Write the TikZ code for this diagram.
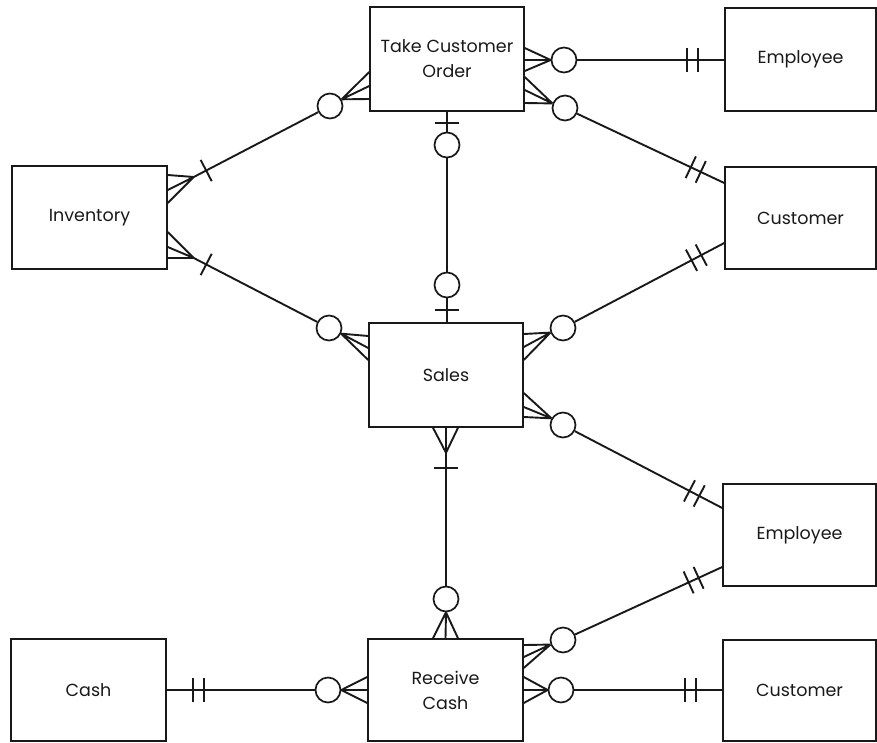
\documentclass[tikz,border=0pt]{standalone}
\usepackage{fontspec}
\setmainfont{Poppins}
\usetikzlibrary{calc}
\colorlet{ink}{black!90}
\tikzset{
  ent/.style={draw=ink, line width=1.5pt, rectangle, inner sep=0pt, align=center,
    text=ink, font=\fontsize{17.5}{25}\selectfont},
  opt/.style={draw=ink, circle, line width=1.7pt, minimum size=25pt, inner sep=0pt},
  conn/.style={draw=ink, line width=1.9pt},
}
\newcommand\crowft[4]{\draw[conn] (#1) -- (#2) (#1) -- (#3) (#1) -- (#4);}
\newcommand\onebar[3]{\draw[conn] ($(#1)!#3pt!(#2)!12pt!90:(#2)$) -- ($(#1)!#3pt!(#2)!12pt!-90:(#2)$);}
\newcommand\twobars[2]{\onebar{#1}{#2}{26}\onebar{#1}{#2}{37}}
\begin{document}
\begin{tikzpicture}[x=1pt,y=-1pt]
\useasboundingbox (0,0) rectangle (877,742);
% entities
\node[ent,minimum width=154pt,minimum height=104pt] (tco) at (447,59) {Take Customer\\Order};
\node[ent,minimum width=151pt,minimum height=103pt] (emp1) at (800.5,59.5) {Employee};
\node[ent,minimum width=151pt,minimum height=102pt] (cust1) at (800.5,218) {Customer};
\node[ent,minimum width=155pt,minimum height=103pt] (inv) at (89.5,217.5) {Inventory};
\node[ent,minimum width=154pt,minimum height=104pt] (sales) at (446,375) {Sales};
\node[ent,minimum width=153pt,minimum height=102pt] (emp2) at (799.5,535) {Employee};
\node[ent,minimum width=153pt,minimum height=101pt] (cust2) at (799.5,690.5) {Customer};
\node[ent,minimum width=155pt,minimum height=102pt] (rc) at (445.5,690) {Receive\\Cash};
\node[ent,minimum width=155pt,minimum height=102pt] (cash) at (88.5,690) {Cash};
% optional circles
\node[opt] (cA) at (564,60) {};
\node[opt] (cB) at (565,108) {};
\node[opt] (cC) at (330,106) {};
\node[opt] (cD) at (329,328) {};
\node[opt] (cE) at (447,145) {};
\node[opt] (cF) at (447,285) {};
\node[opt] (cG) at (563,328) {};
\node[opt] (cH) at (563,425) {};
\node[opt] (cI) at (446,599) {};
\node[opt] (cJ) at (328,690) {};
\node[opt] (cK) at (563,640) {};
\node[opt] (cL) at (561,690) {};
% end coordinates
\coordinate (eA) at (cA -| emp1.west);
\coordinate (eB) at ($(cust1.west)+(0,-35)$);
\coordinate (eG) at ($(cust1.west)+(0,25)$);
\coordinate (eH) at ($(emp2.west)+(0,-27)$);
\coordinate (eK) at ($(emp2.west)+(0,32)$);
\coordinate (eJ) at (cJ -| cash.east);
\coordinate (eL) at (cL -| cust2.west);
\coordinate (mI1) at ($(inv.east)+(26,-40.5)$);
\coordinate (mI2) at ($(inv.east)+(26,40.5)$);
\coordinate (mS) at ($(sales.south)+(0,25)$);
\coordinate (sN) at (cF |- sales.north);
% R1 TCO - Employee
\draw[conn] (cA) -- (eA);
\twobars{eA}{cA}
\crowft{cA.west}{$(tco.east)+(0,-11)$}{$(tco.east)+(0,1)$}{$(tco.east)+(0,12)$}
% R2 TCO - Customer
\draw[conn] (cB) -- (eB);
\twobars{eB}{cB}
\crowft{cB.160}{$(tco.east)+(0,18)$}{$(tco.east)+(0,31)$}{$(tco.east)+(0,44)$}
% R3 TCO - Inventory
\crowft{cC.30}{$(tco.west)+(0,13)$}{$(tco.west)+(0,27)$}{$(tco.west)+(0,40)$}
\draw[conn] (mI1) -- (cC);
\crowft{mI1}{$(inv.east)+(0,-42.5)$}{$(inv.east)+(0,-27.5)$}{$(inv.east)+(0,-14.5)$}
\onebar{mI1}{cC}{14}
% R4 Inventory - Sales
\draw[conn] (mI2) -- (cD);
\crowft{mI2}{$(inv.east)+(0,14.5)$}{$(inv.east)+(0,29.5)$}{$(inv.east)+(0,40.5)$}
\onebar{mI2}{cD}{14}
\crowft{cD.-25}{$(sales.west)+(0,-39)$}{$(sales.west)+(0,-27)$}{$(sales.west)+(0,-15)$}
% R5 TCO - Sales
\draw[conn] (tco.south) -- (cE);
\draw[conn] (cE) -- (cF);
\draw[conn] (cF) -- (sN);
\onebar{tco.south}{cE}{11}
\onebar{sN}{cF}{12}
% R6 Sales - Customer
\draw[conn] (cG) -- (eG);
\twobars{eG}{cG}
\crowft{cG.200}{$(sales.east)+(0,-41)$}{$(sales.east)+(0,-28)$}{$(sales.east)+(0,-15)$}
% R7 Sales - Employee
\draw[conn] (cH) -- (eH);
\twobars{eH}{cH}
\crowft{cH.150}{$(sales.east)+(0,18)$}{$(sales.east)+(0,32)$}{$(sales.east)+(0,42)$}
% R8 Sales - Receive Cash
\crowft{mS}{$(sales.south)+(-13,0)$}{sales.south}{$(sales.south)+(12,0)$}
\draw[conn] (mS) -- (cI);
\onebar{mS}{cI}{15}
\crowft{cI.south}{$(rc.north)+(-12.5,0)$}{rc.north}{$(rc.north)+(12.5,0)$}
% R9 Receive Cash - Cash
\draw[conn] (cJ) -- (eJ);
\twobars{eJ}{cJ}
\crowft{cJ.east}{$(rc.west)+(0,-13)$}{rc.west}{$(rc.west)+(0,13)$}
% R10 Receive Cash - Employee
\draw[conn] (cK) -- (eK);
\twobars{eK}{cK}
\crowft{cK.200}{$(rc.east)+(0,-45)$}{$(rc.east)+(0,-33)$}{$(rc.east)+(0,-22)$}
% R11 Receive Cash - Customer
\draw[conn] (cL) -- (eL);
\twobars{eL}{cL}
\crowft{cL.west}{$(rc.east)+(0,-13)$}{rc.east}{$(rc.east)+(0,13)$}
\end{tikzpicture}
\end{document}
